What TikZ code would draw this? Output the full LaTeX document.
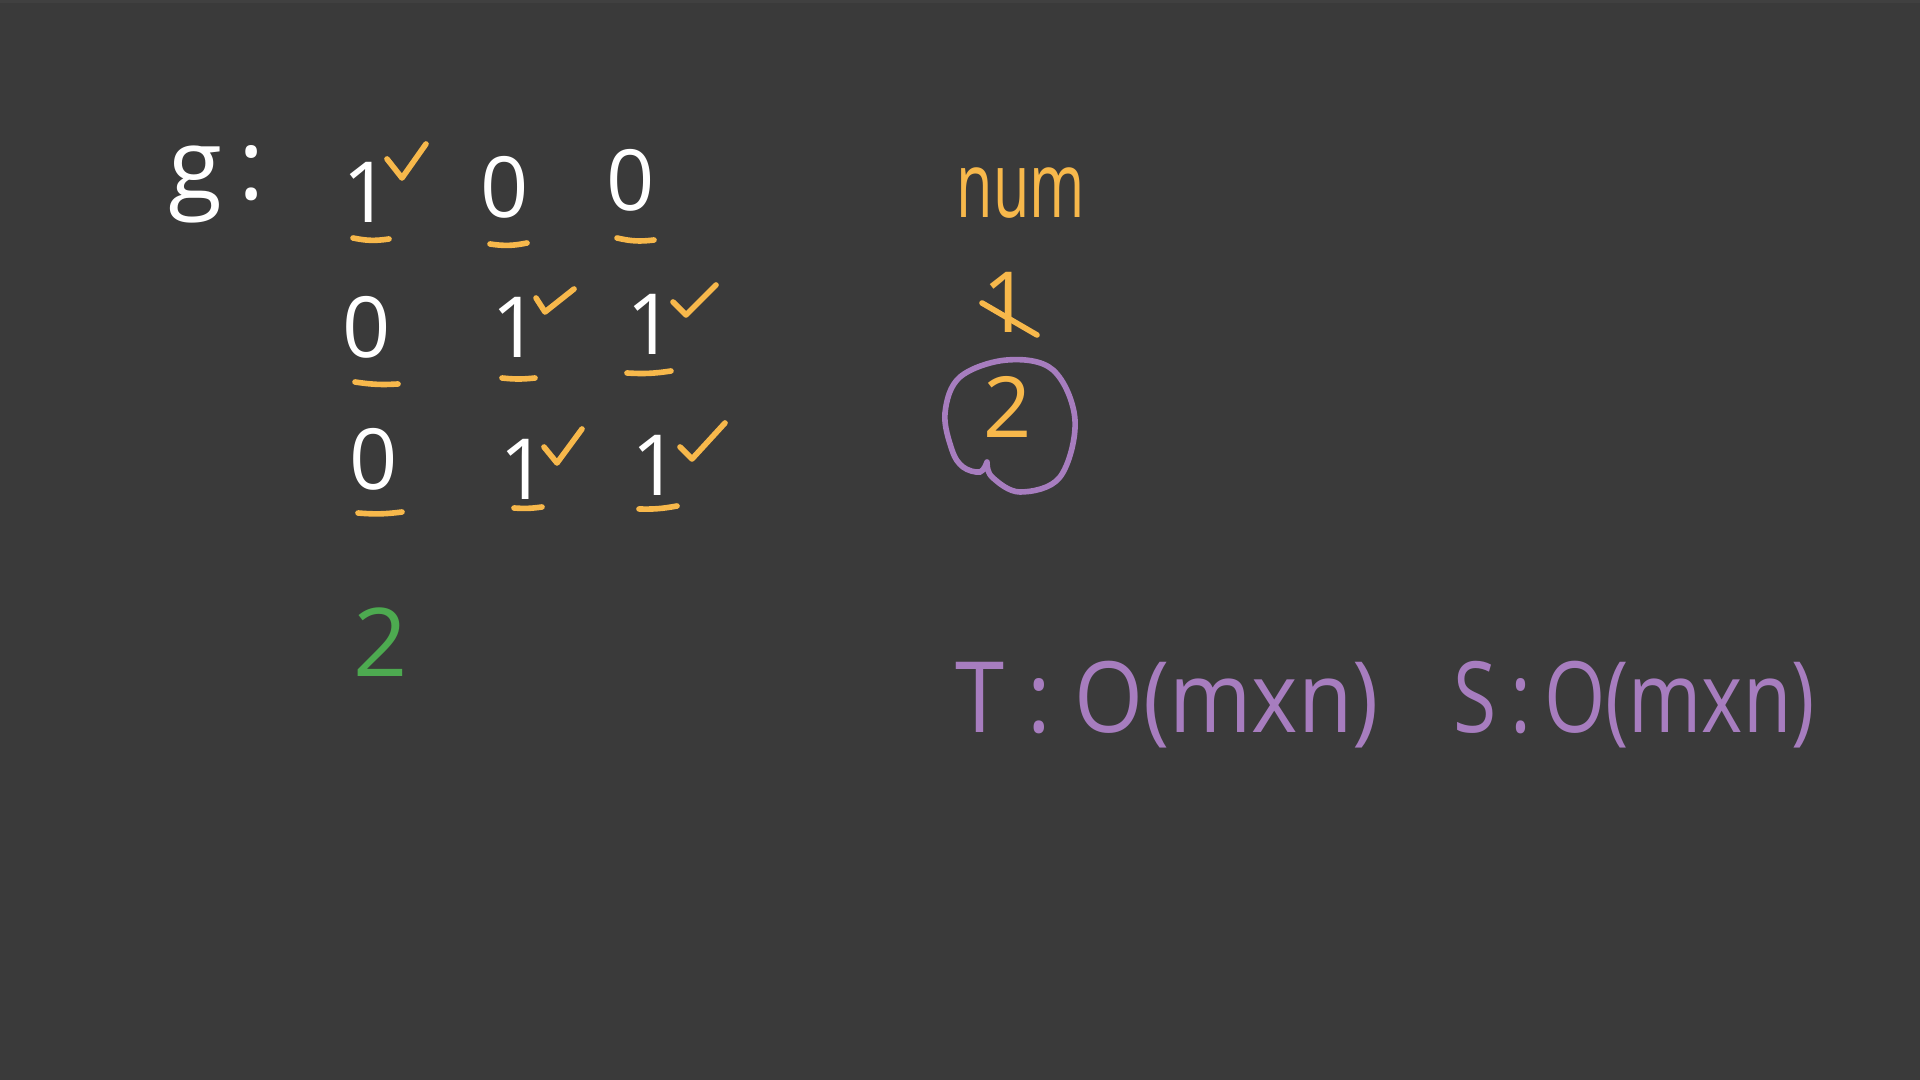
\documentclass[tikz,border=0pt]{standalone}
\usepackage{fontspec}
\usepackage{graphicx}
\setmainfont{Open Sans}
\definecolor{board}{HTML}{3A3A3A}
\definecolor{chalk}{HTML}{FFFFFF}
\definecolor{marker}{HTML}{F7B84B}
\definecolor{lilac}{HTML}{A77DBF}
\definecolor{leaf}{HTML}{4DAA50}
\tikzset{
  cell/.style={text=chalk, font=\fontsize{24}{28}\selectfont, inner sep=0pt, anchor=base},
  uline/.style={draw=marker, line width=1.6pt, line cap=round},
  tickstroke/.style={draw=marker, line width=1.6pt, line cap=round, line join=round},
}

\begin{document}
\begin{tikzpicture}
\fill[board] (0,0) rectangle (19.2,10.8);
\fill[black!75] (0,10.77) rectangle (19.2,10.8);
\useasboundingbox (0,0) rectangle (19.2,10.8);
% grid g
\node[text=chalk, font=\fontsize{28}{32}\selectfont, inner sep=0pt, anchor=base west] (glabel) at (1.68,8.80) {g\,:};
\node[cell] (d11) at (3.67,8.57) {1};
\node[cell] (d12) at (5.05,8.62) {0};
\node[cell] (d13) at (6.31,8.69) {0};
\node[cell] (d21) at (3.67,7.22) {0};
\node[cell] (d22) at (5.16,7.22) {1};
\node[cell] (d23) at (6.51,7.25) {1};
\node[cell] (d31) at (3.74,5.90) {0};
\node[cell] (d32) at (5.24,5.80) {1};
\node[cell] (d33) at (6.56,5.84) {1};
% underlines
\draw[uline] (3.53,8.42) to[bend right=10] (3.89,8.41);
\draw[uline] (4.90,8.36) to[bend right=10] (5.27,8.37);
\draw[uline] (6.17,8.42) to[bend right=10] (6.54,8.40);
\draw[uline] (3.55,6.98) to[bend right=6] (3.98,6.96);
\draw[uline] (5.02,7.02) to[bend right=6] (5.35,7.02);
\draw[uline] (6.27,7.07) to[bend right=6] (6.71,7.09);
\draw[uline] (3.58,5.67) to[bend right=6] (4.02,5.68);
\draw[uline] (5.14,5.72) to[bend right=6] (5.42,5.73);
\draw[uline] (6.39,5.71) to[bend right=6] (6.77,5.74);
% visited marks
\draw[tickstroke] (3.87,9.21) -- (4.02,9.02) -- (4.26,9.36);
\draw[tickstroke] (5.36,7.82) -- (5.45,7.68) -- (5.74,7.91);
\draw[tickstroke] (6.73,7.78) -- (6.86,7.65) -- (7.16,7.95);
\draw[tickstroke] (5.44,6.33) -- (5.57,6.17) -- (5.82,6.51);
\draw[tickstroke] (6.80,6.33) -- (6.92,6.21) -- (7.25,6.57);
\node[text=leaf, font=\fontsize{27}{32}\selectfont, inner sep=0pt, anchor=base] (answer) at (3.81,4.03) {2};
% counter
\node[text=marker, font=\fontsize{26}{30}\selectfont, inner sep=0pt, anchor=base] (num) at (10.21,8.62) {\scalebox{0.65}[1]{num}};
\node[text=marker, font=\fontsize{24}{28}\selectfont, inner sep=0pt, anchor=base] (one) at (10.07,7.47) {1};
\draw[tickstroke] (9.82,7.77) -- (10.37,7.45);
\node[text=marker, font=\fontsize{24}{28}\selectfont, inner sep=0pt, anchor=base] (two) at (10.08,6.42) {2};
\draw[lilac, line width=1.6pt, line cap=round] plot[smooth, tension=0.6] coordinates {(9.87,6.18) (9.92,6.03) (10.20,5.88) (10.60,6.03) (10.75,6.60) (10.53,7.10) (10.07,7.20) (9.60,7.03) (9.45,6.67) (9.52,6.30) (9.63,6.13) (9.80,6.08) (9.87,6.18)};
% complexity
\node[text=lilac, font=\fontsize{28}{32}\selectfont, inner sep=0pt, anchor=base west] (tcost) at (9.55,3.47) {\scalebox{0.9}[1]{T : O(mxn)}};
\node[text=lilac, font=\fontsize{28}{32}\selectfont, inner sep=0pt, anchor=base west] (scost) at (14.53,3.47) {\scalebox{0.8}[1]{S\,:\,O(mxn)}};
\end{tikzpicture}
\end{document}
